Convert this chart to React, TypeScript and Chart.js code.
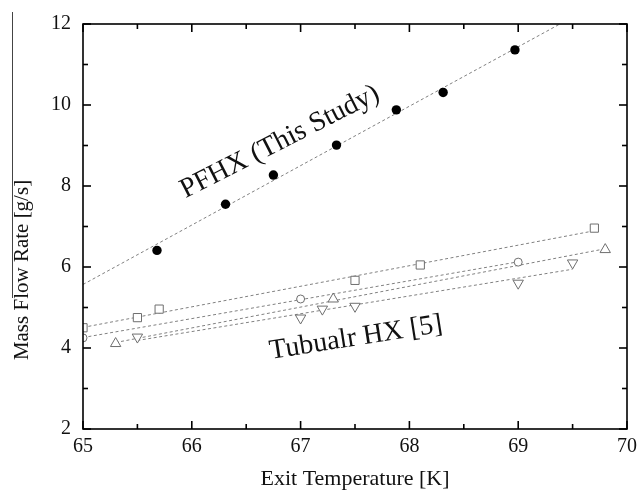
import React, { useEffect, useRef } from "react";
import { Chart, registerables } from "chart.js";

Chart.register(...registerables);

// ---- Data ----
const pfhxX = [65.68, 66.31, 66.75, 67.33, 67.88, 68.31, 68.97];
const pfhxY = [6.41, 7.55, 8.27, 9.01, 9.88, 10.31, 11.36];

const squareX = [65.0, 65.5, 65.7, 67.5, 68.1, 69.7];
const squareY = [4.5, 4.75, 4.96, 5.67, 6.05, 6.96];

const circleX = [65.0, 67.0, 69.0];
const circleY = [4.25, 5.21, 6.12];

const triUpX = [65.3, 67.3, 69.8];
const triUpY = [4.11, 5.21, 6.43];

const triDownX = [65.5, 67.0, 67.2, 67.5, 69.0, 69.5];
const triDownY = [4.27, 4.74, 4.96, 5.03, 5.6, 6.1];

const xTicks = [65, 66, 67, 68, 69, 70];
const yTicks = [2, 4, 6, 8, 10, 12];

const X_MIN = 65, X_MAX = 70, Y_MIN = 2, Y_MAX = 12;

const FONT = "'Liberation Serif', 'Times New Roman', serif";

function pts(xs: number[], ys: number[]) {
  return xs.map((x, i) => ({ x, y: ys[i] }));
}

// least-squares fit line between given x extents
function fit(xs: number[], ys: number[], x0: number, x1: number) {
  const n = xs.length;
  const mx = xs.reduce((a, b) => a + b, 0) / n;
  const my = ys.reduce((a, b) => a + b, 0) / n;
  let sxy = 0, sxx = 0;
  for (let i = 0; i < n; i++) {
    sxy += (xs[i] - mx) * (ys[i] - my);
    sxx += (xs[i] - mx) * (xs[i] - mx);
  }
  const b = sxy / sxx;
  const a = my - b * mx;
  return [{ x: x0, y: a + b * x0 }, { x: x1, y: a + b * x1 }];
}

const frameTicks = {
  id: "frameTicks",
  afterDraw(chart: any) {
    const { ctx, chartArea: a, scales } = chart;
    const xs = scales.x, ys = scales.y;
    ctx.save();
    ctx.strokeStyle = "#000";
    ctx.lineWidth = 1.6;
    const seg = (x1: number, y1: number, x2: number, y2: number) => {
      ctx.beginPath(); ctx.moveTo(x1, y1); ctx.lineTo(x2, y2); ctx.stroke();
    };
    for (let v = X_MIN; v <= X_MAX + 1e-9; v += 0.5) {
      const px = xs.getPixelForValue(v);
      const major = Math.abs(v - Math.round(v)) < 1e-6;
      const len = major ? 8 : 5;
      seg(px, a.bottom, px, a.bottom - len);
      seg(px, a.top, px, a.top + len);
    }
    for (let v = Y_MIN; v <= Y_MAX + 1e-9; v += 1) {
      const py = ys.getPixelForValue(v);
      const major = Math.round(v) % 2 === 0;
      const len = major ? 8 : 5;
      seg(a.left, py, a.left + len, py);
      seg(a.right, py, a.right - len, py);
    }
    ctx.strokeRect(a.left, a.top, a.right - a.left, a.bottom - a.top);

    // axis titles
    ctx.fillStyle = "#111";
    ctx.font = `22px ${FONT}`;
    ctx.textAlign = "center";
    ctx.textBaseline = "middle";
    ctx.fillText("Exit Temperature [K]", (a.left + a.right) / 2, 479);
    ctx.save();
    ctx.font = `21px ${FONT}`;
    ctx.translate(22, 270);
    ctx.rotate(-Math.PI / 2);
    ctx.fillText("Mass Flow Rate [g/s]", 0, 0);
    ctx.restore();
    // stray overline seen in the source image
    ctx.strokeStyle = "#444";
    ctx.lineWidth = 1;
    seg(12.5, 12, 12.5, 298);

    // annotations
    ctx.fillStyle = "#111";
    ctx.font = `28px ${FONT}`;
    ctx.save();
    ctx.translate(280, 142);
    ctx.rotate((-27 * Math.PI) / 180);
    ctx.fillText("PFHX (This Study)", 0, 0);
    ctx.restore();
    ctx.save();
    ctx.translate(356, 338);
    ctx.rotate((-9 * Math.PI) / 180);
    ctx.fillText("Tubualr HX [5]", 0, 0);
    ctx.restore();
    ctx.restore();
  },
};

export default function App() {
  const ref = useRef<HTMLCanvasElement | null>(null);
  useEffect(() => {
    if (!ref.current) return;
    const gray = "#6e6e6e";
    const lineGray = "#808080";
    const dash = [3, 2.5];
    const lineDs = (data: any[]) => ({
      type: "line" as const,
      data,
      showLine: true,
      borderColor: lineGray,
      borderWidth: 1,
      borderDash: dash,
      pointRadius: 0,
      fill: false,
    });
    const markerDs = (data: any[], style: string, r: number, rot = 0) => ({
      data,
      showLine: false,
      pointStyle: style,
      pointRadius: r,
      pointRotation: rot,
      pointBorderColor: gray,
      pointBackgroundColor: "#fff",
      pointBorderWidth: 1,
    });
    const chart = new Chart(ref.current, {
      type: "scatter",
      data: {
        datasets: [
          {
            data: pts(pfhxX, pfhxY),
            showLine: false,
            pointStyle: "circle",
            pointRadius: 4.7,
            pointBackgroundColor: "#000",
            pointBorderColor: "#000",
            pointBorderWidth: 0,
          },
          markerDs(pts(squareX, squareY), "rect", 5.8),
          markerDs(pts(circleX, circleY), "circle", 4),
          markerDs(pts(triUpX, triUpY), "triangle", 6),
          markerDs(pts(triDownX, triDownY), "triangle", 6, 180),
          lineDs(fit(pfhxX, pfhxY, X_MIN, X_MAX)),
          lineDs(fit(squareX, squareY, squareX[0], squareX[squareX.length - 1])),
          lineDs(fit(circleX, circleY, circleX[0], circleX[circleX.length - 1])),
          lineDs(fit(triUpX, triUpY, triUpX[0], triUpX[triUpX.length - 1])),
          lineDs(fit(triDownX, triDownY, triDownX[0], triDownX[triDownX.length - 1])),
        ] as any,
      },
      options: {
        animation: false,
        responsive: false,
        events: [],
        layout: { padding: { top: 23, right: 11, left: 0, bottom: 0 } },
        plugins: { legend: { display: false }, tooltip: { enabled: false } },
        scales: {
          x: {
            type: "linear",
            min: X_MIN,
            max: X_MAX,
            afterFit: (s: any) => { s.height = 61; },
            afterBuildTicks: (s: any) => { s.ticks = xTicks.map((v) => ({ value: v })); },
            grid: { display: false, drawTicks: false },
            border: { display: false },
            ticks: { color: "#111", padding: 6, font: { family: FONT, size: 20 } },
          },
          y: {
            type: "linear",
            min: Y_MIN,
            max: Y_MAX,
            afterFit: (s: any) => { s.width = 83; },
            afterBuildTicks: (s: any) => { s.ticks = yTicks.map((v) => ({ value: v })); },
            grid: { display: false, drawTicks: false },
            border: { display: false },
            ticks: { color: "#111", padding: 12, font: { family: FONT, size: 20 } },
          },
        },
      },
      plugins: [frameTicks],
    });
    return () => chart.destroy();
  }, []);
  return (
    <div style={{ position: "absolute", left: 0, top: 0, width: 643, height: 490, background: "#fff" }}>
      <canvas ref={ref} width={643} height={490} />
    </div>
  );
}
